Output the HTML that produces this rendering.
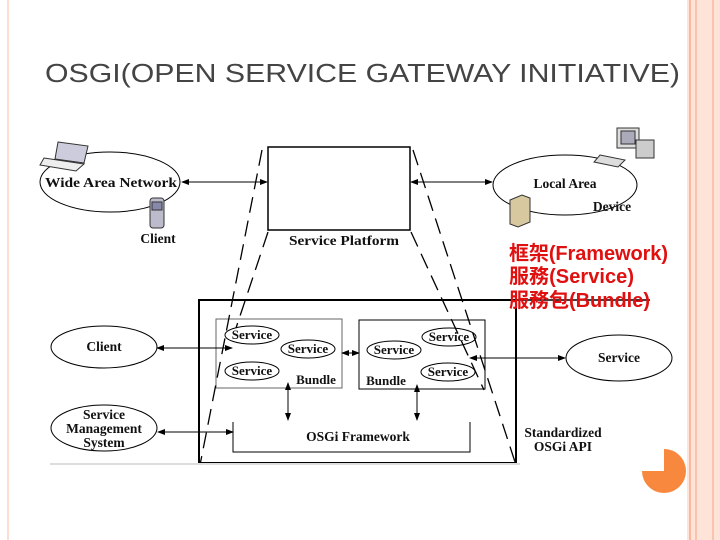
<!DOCTYPE html>
<html><head><meta charset="utf-8"><style>
body{margin:0;width:720px;height:540px;background:#fff;overflow:hidden;position:relative}
svg{position:absolute;left:0;top:0}
</style></head><body>
<svg width="720" height="540" viewBox="0 0 720 540" xmlns="http://www.w3.org/2000/svg">
<defs><marker id="a" markerWidth="8" markerHeight="8" refX="7" refY="4" orient="auto-start-reverse" markerUnits="userSpaceOnUse"><path d="M0,1 L8,4 L0,7z" fill="#000"/></marker></defs>
<rect x="687" y="0" width="33" height="540" fill="#fde3d8"/>
<line x1="690" y1="0" x2="690" y2="540" stroke="#f7b9a0" stroke-width="2"/>
<line x1="696" y1="0" x2="696" y2="540" stroke="#f7b9a0" stroke-width="1.5"/>
<line x1="713" y1="0" x2="713" y2="540" stroke="#f7b9a0" stroke-width="1.5"/>
<line x1="8" y1="0" x2="8" y2="540" stroke="#fbd3c3" stroke-width="1.5"/>
<path d="M664,449 A22,22 0 1 1 642,471 L664,471 Z" fill="#f7883e"/>
<text x="45" y="82" font-family="Liberation Sans,sans-serif" font-size="26" fill="#444" textLength="635" lengthAdjust="spacingAndGlyphs">OSGI(OPEN SERVICE GATEWAY INITIATIVE)</text>
<g font-family="Liberation Serif,serif" font-weight="bold" font-size="13.5" fill="#111" stroke="#000" text-anchor="middle">
<g fill="none" stroke-width="1">
<ellipse cx="110" cy="182" rx="70" ry="30"/>
<ellipse cx="565" cy="185" rx="72" ry="30"/>
<ellipse cx="104" cy="347" rx="53" ry="21"/>
<ellipse cx="104" cy="428" rx="53" ry="23"/>
<ellipse cx="619" cy="358" rx="53" ry="23"/>
<rect x="268" y="147" width="142" height="83" stroke-width="1.5"/>
<rect x="199" y="300" width="317" height="163" stroke-width="2"/>
<line x1="516" y1="300" x2="650" y2="300" stroke-width="1.5"/>
<rect x="216" y="319" width="126" height="69" stroke="#666"/>
<rect x="359" y="320" width="126" height="69"/>
<ellipse cx="252" cy="335" rx="27" ry="9"/>
<ellipse cx="308" cy="349" rx="27" ry="9"/>
<ellipse cx="252" cy="371" rx="27" ry="9"/>
<ellipse cx="394" cy="350" rx="27" ry="9"/>
<ellipse cx="449" cy="337" rx="27" ry="9"/>
<ellipse cx="448" cy="372" rx="27" ry="9"/>
<path d="M233,422 V452 H470 V422"/>
<g stroke-dasharray="16,8" stroke-width="1.3">
<line x1="262" y1="150" x2="200" y2="465"/>
<line x1="268" y1="232" x2="236" y2="328"/>
<line x1="413" y1="150" x2="516" y2="465"/>
<line x1="411" y1="232" x2="484" y2="390"/>
</g>
<g marker-start="url(#a)" marker-end="url(#a)">
<line x1="182" y1="182" x2="267" y2="182"/>
<line x1="411" y1="182" x2="492" y2="182"/>
<line x1="157" y1="348" x2="232" y2="348"/>
<line x1="158" y1="432" x2="233" y2="432"/>
<line x1="470" y1="358" x2="565" y2="358"/>
<line x1="342" y1="353" x2="359" y2="353"/>
<line x1="288" y1="383" x2="288" y2="420"/>
<line x1="417" y1="385" x2="417" y2="420"/>
</g>
</g>
<g stroke="none">
<text x="111" y="187" textLength="132" lengthAdjust="spacingAndGlyphs">Wide Area Network</text>
<text x="158" y="243">Client</text>
<text x="565" y="188">Local Area</text>
<text x="612" y="211">Device</text>
<text x="344" y="245" textLength="110" lengthAdjust="spacingAndGlyphs">Service Platform</text>
<text x="104" y="351">Client</text>
<text x="104" y="419">Service</text>
<text x="104" y="433">Management</text>
<text x="104" y="447">System</text>
<text x="619" y="362">Service</text>
<g font-size="13">
<text x="252" y="339">Service</text>
<text x="308" y="353">Service</text>
<text x="252" y="375">Service</text>
<text x="316" y="384">Bundle</text>
<text x="394" y="354">Service</text>
<text x="449" y="341">Service</text>
<text x="448" y="376">Service</text>
<text x="386" y="385">Bundle</text>
</g>
<text x="358" y="441">OSGi Framework</text>
<text x="563" y="437">Standardized</text>
<text x="563" y="451">OSGi API</text>
</g>
</g>
<g stroke="#333" stroke-width="1">
<path d="M58,142 L88,146 L84,163 L55,159Z" fill="#ccd"/>
<path d="M44,158 L84,164 L76,171 L40,165Z" fill="#eee"/>
<rect x="150" y="198" width="14" height="30" rx="3" fill="#bbc"/>
<rect x="152" y="202" width="10" height="8" fill="#88a"/>
<rect x="617" y="128" width="22" height="20" fill="#ddd"/>
<rect x="621" y="131" width="14" height="13" fill="#aab"/>
<rect x="636" y="140" width="18" height="18" fill="#ccc"/>
<path d="M600,155 L625,160 L618,167 L594,162Z" fill="#ddd"/>
<path d="M510,200 L522,195 L530,198 L530,222 L518,227 L510,224Z" fill="#d8c8a0"/>
</g>
<g font-family="Liberation Sans,'Noto Sans CJK TC',sans-serif" font-weight="bold" font-size="20" fill="#e01010" lengthAdjust="spacingAndGlyphs">
<text x="509" y="260" textLength="159">框架(Framework)</text>
<text x="509" y="283" textLength="125">服務(Service)</text>
<text x="509" y="307" textLength="141">服務包(Bundle)</text>
</g>
<line x1="50" y1="464" x2="520" y2="464" stroke="#ddd" stroke-width="2"/>
</svg>
</body></html>
